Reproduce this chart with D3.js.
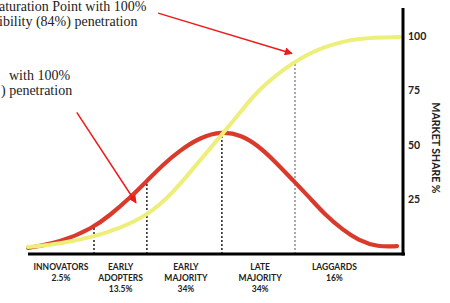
<!DOCTYPE html>
<html>
<head>
<meta charset="utf-8">
<script src="https://cdn.jsdelivr.net/npm/d3@7"></script>
<style>
  body { margin: 0; background: #fff; }
  svg { display: block; }
  .seg { font-family: Lato, "Open Sans", sans-serif; font-weight: 700; font-size: 8.5px; fill: #222; }
  .tick text { font-family: Lato, "Open Sans", sans-serif; font-weight: 700; font-size: 10.5px; fill: #222; }
  .note { font-family: "Liberation Serif", "Times New Roman", serif; font-size: 14px; fill: #222; }
</style>
</head>
<body>
<script>
// data
// x = time along the adoption axis (0..100), y = market share %
var redCurve = [[0, 2.8], [8.5, 5.3], [17.3, 11.9], [22, 18], [27, 25.5], [31.7, 33.5],
  [36, 41], [40.5, 47.5], [45.9, 53.5], [51.7, 56.3], [57, 54.5], [61.1, 50], [65.3, 43.5],
  [70, 35], [75.2, 25.7], [79.2, 18], [84, 11], [88, 6.4], [93.3, 3.2], [98.4, 3.6]];
var yellowCurve = [[0, 3.2], [8.5, 4.6], [17.3, 7.8], [24.5, 11.9], [31.7, 17.5], [38.7, 28],
  [45.9, 43.1], [52.5, 56.4], [57.1, 66], [61.3, 75.2], [70.4, 88], [79.2, 95.5],
  [88, 99.2], [99.2, 99.5]];
// dotted dividers: position and height reached on curve
var dividers = [[17.6, 11.9], [31.7, 34.9], [51.7, 56], [71.2, 88.5]];
var segNames = [["INNOVATORS", "2.5%"], ["EARLY", "ADOPTERS", "13.5%"], ["EARLY", "MAJORITY", "34%"],
  ["LATE", "MAJORITY", "34%"], ["LAGGARDS", "16%"]];
var segCenters = [8.8, 24.7, 42.1, 61.9, 81.7];
var shareTicks = [25, 50, 75, 100];
var noteLines = [["aturation Point with 100%", -1, 11], ["ibility (84%) penetration", -1, 26],
  ["with 100%", 9, 80], [") penetration", 1, 95]];
// arrows: from [x, share] to [x, share]
var arrows = [[[34.7, 110.5], [70.4, 92]], [[13, 65], [28.8, 23.5]]];

var width = 450, height = 303;
var svg = d3.select("body").append("svg").attr("width", width).attr("height", height);

var x = d3.scaleLinear().domain([0, 100]).range([28, 403]);
var y = d3.scaleLinear().domain([0, 100]).range([254, 36]);

svg.append("defs").append("marker")
  .attr("id", "head")
  .attr("viewBox", "0 0 10 10")
  .attr("refX", 9).attr("refY", 5)
  .attr("markerWidth", 9).attr("markerHeight", 8)
  .attr("markerUnits", "userSpaceOnUse")
  .attr("orient", "auto")
  .append("path").attr("d", "M0,0L10,5L0,10z").attr("fill", "#ee1a1a");

// dotted dividers
svg.selectAll(".div").data(dividers).enter().append("line")
  .attr("x1", d => x(d[0])).attr("x2", d => x(d[0]))
  .attr("y1", y(0)).attr("y2", d => y(d[1]))
  .attr("stroke", (d, i) => i == 3 ? "#555" : "#222")
  .attr("stroke-width", (d, i) => i == 3 ? 1 : 1.5)
  .attr("stroke-dasharray", "2,2");

var line = d3.line().x(d => x(d[0])).y(d => y(d[1])).curve(d3.curveBasis);

svg.append("path").datum(redCurve).attr("d", line)
  .attr("fill", "none").attr("stroke", "#d93a2b").attr("stroke-width", 4.2).attr("stroke-linecap", "round");
svg.append("path").datum(yellowCurve).attr("d", line)
  .attr("fill", "none").attr("stroke", "#eeee7a").attr("stroke-width", 4).attr("stroke-linecap", "round");

// baseline and right axis
svg.append("line").attr("x1", 28).attr("x2", 405).attr("y1", y(0)).attr("y2", y(0))
  .attr("stroke", "#000").attr("stroke-width", 3);
svg.append("line").attr("x1", 403).attr("x2", 403).attr("y1", 8).attr("y2", y(0) + 1.5)
  .attr("stroke", "#000").attr("stroke-width", 3);

var yAxis = svg.append("g").attr("transform", "translate(403,0)")
  .call(d3.axisRight(y).tickValues(shareTicks).tickSize(0).tickPadding(5));
yAxis.select(".domain").remove();

svg.append("text").attr("class", "seg")
  .attr("transform", "translate(432,148) rotate(90)")
  .attr("text-anchor", "middle").style("font-size", "10.5px")
  .text("MARKET SHARE %");

// segment labels
var segs = svg.selectAll(".segLabel").data(segNames).enter().append("text")
  .attr("class", "seg").attr("text-anchor", "middle")
  .attr("x", (d, i) => x(segCenters[i])).attr("y", 270);
segs.selectAll("tspan").data(d => d).enter().append("tspan")
  .attr("x", function() { return this.parentNode.getAttribute("x"); })
  .attr("dy", (d, i) => i == 0 ? 0 : 11)
  .text(d => d);

// notes
svg.selectAll(".note").data(noteLines).enter().append("text")
  .attr("class", "note").attr("x", d => d[1]).attr("y", d => d[2]).text(d => d[0]);

svg.selectAll(".arrow").data(arrows).enter().append("line")
  .attr("x1", d => x(d[0][0])).attr("y1", d => y(d[0][1]))
  .attr("x2", d => x(d[1][0])).attr("y2", d => y(d[1][1]))
  .attr("stroke", "#ee1a1a").attr("stroke-width", 1.5)
  .attr("marker-end", "url(#head)");
</script>
</body>
</html>
